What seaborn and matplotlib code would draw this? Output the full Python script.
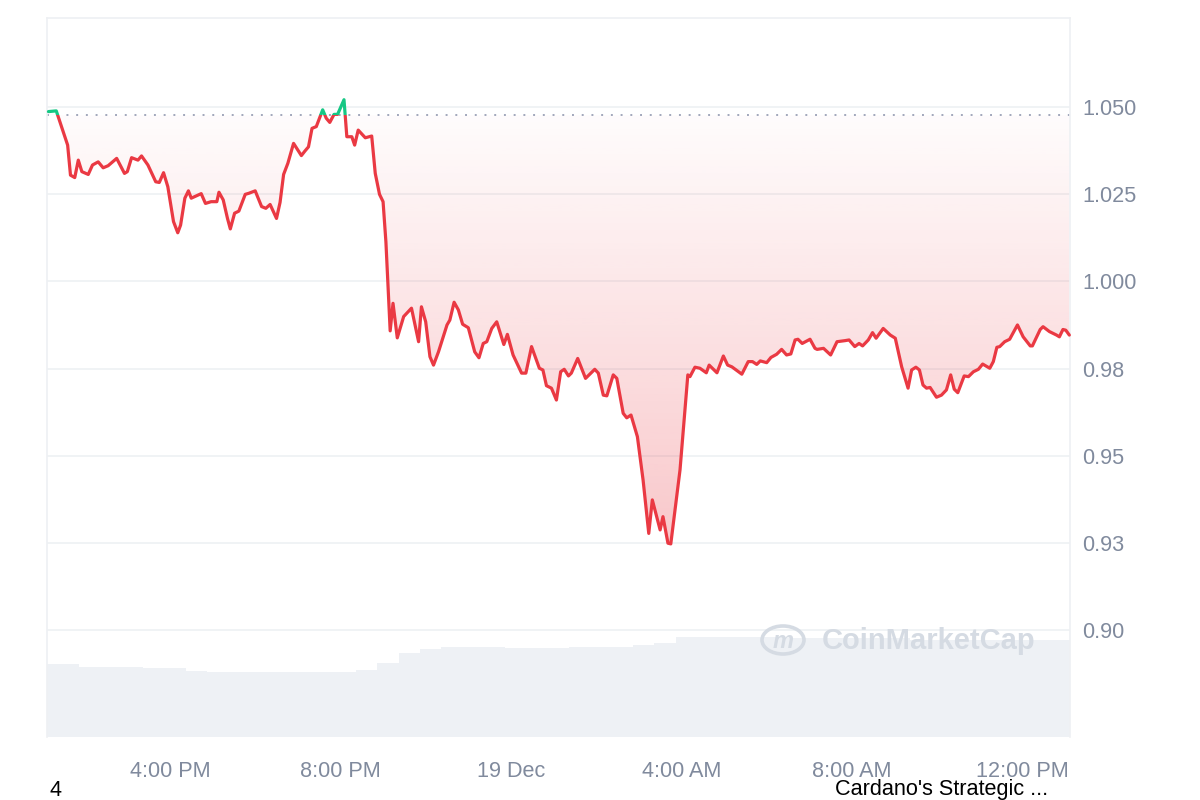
import numpy as np
import pandas as pd
import seaborn as sns
import matplotlib.pyplot as plt
import matplotlib.dates as mdates
from matplotlib.patches import Rectangle, PathPatch, Circle

# price trace, minutes after 12:00 PM on 18 Dec
minutes = [69, 80, 88, 96, 100, 106, 111, 116, 125, 131, 139, 146, 153, 165, 176, 180, 186, 195, 200, 209,
           220, 225, 231, 237, 245, 251, 255, 261, 266, 270, 284, 290, 298, 306, 309, 315, 321, 325, 331, 337,
           346, 351, 360, 369, 375, 381, 390, 395, 400, 406, 414, 425, 430,
           435, 440, 446, 455, 460, 465, 471, 476, 485, 489, 496, 500, 505, 515, 524, 529, 535, 540, 544, 550,
           554, 560, 569, 580, 590, 594, 600, 606, 611, 618, 630, 634, 640, 646, 652, 660, 669, 675, 681, 686,
           693, 700, 710, 715, 723, 735, 741, 749, 760, 765, 770, 777, 784, 790,
           795, 801, 805, 814, 825, 838, 843, 850, 855, 864, 869, 878, 883, 889, 898, 906, 914, 919, 930, 934,
           941, 945, 958, 969, 972, 979, 986, 995, 999, 1010, 1019, 1025, 1031, 1045, 1054, 1060, 1066, 1071,
           1080, 1086, 1094, 1101, 1108, 1114, 1120, 1124, 1130, 1141, 1148,
           1151, 1160, 1170, 1179, 1190, 1196, 1204, 1210, 1215, 1223, 1229, 1234, 1244, 1254, 1261, 1270,
           1279, 1284, 1290, 1295, 1300, 1305, 1310, 1319, 1326, 1333, 1339, 1344, 1349, 1358, 1364, 1371,
           1378, 1384, 1394, 1399, 1404, 1408, 1415, 1422, 1433, 1441, 1451, 1454, 1465, 1469, 1478, 1488,
           1492, 1497, 1501, 1506]

price = [1.0486, 1.0488, 1.0439, 1.0390, 1.0304, 1.0297, 1.0347, 1.0314, 1.0306, 1.0333, 1.0342, 1.0325,
         1.0331, 1.0352, 1.0309, 1.0314, 1.0354, 1.0347, 1.0359, 1.0333, 1.0285, 1.0283, 1.0311, 1.0271,
         1.0171, 1.0139, 1.0161, 1.0238, 1.0259, 1.0238, 1.0251, 1.0223, 1.0228, 1.0228, 1.0255, 1.0233,
         1.0180, 1.0150, 1.0195, 1.0201, 1.0249, 1.0252, 1.0259, 1.0214, 1.0209, 1.0220, 1.0180, 1.0226,
         1.0306, 1.0338, 1.0395, 1.0360, 1.0373,
         1.0385, 1.0438, 1.0443, 1.0491, 1.0467, 1.0455, 1.0478, 1.0478, 1.0520, 1.0414, 1.0414, 1.0390,
         1.0433, 1.0411, 1.0416, 1.0309, 1.0249, 1.0228, 1.0113, 0.9858, 0.9937, 0.9838, 0.9899, 0.9923,
         0.9827, 0.9927, 0.9884, 0.9784, 0.9760, 0.9798, 0.9875, 0.9889, 0.9940, 0.9918, 0.9877, 0.9867,
         0.9798, 0.9781, 0.9822, 0.9827, 0.9865, 0.9884, 0.9819, 0.9848, 0.9789, 0.9737, 0.9737, 0.9813,
         0.9751, 0.9746, 0.9701, 0.9694, 0.9660, 0.9741,
         0.9748, 0.9729, 0.9737, 0.9779, 0.9722, 0.9748, 0.9737, 0.9674, 0.9672, 0.9732, 0.9722, 0.9622,
         0.9609, 0.9617, 0.9555, 0.9431, 0.9278, 0.9374, 0.9288, 0.9326, 0.9250, 0.9248, 0.9460, 0.9732,
         0.9727, 0.9754, 0.9751, 0.9738, 0.9760, 0.9738, 0.9786, 0.9760, 0.9755, 0.9734, 0.9770, 0.9770,
         0.9762, 0.9772, 0.9767, 0.9782, 0.9791, 0.9805, 0.9789, 0.9792, 0.9832, 0.9834, 0.9822, 0.9834,
         0.9808,
         0.9805, 0.9808, 0.9789, 0.9827, 0.9830, 0.9832, 0.9813, 0.9822, 0.9815, 0.9832, 0.9853, 0.9837,
         0.9865, 0.9846, 0.9837, 0.9755, 0.9694, 0.9746, 0.9754, 0.9746, 0.9703, 0.9694, 0.9696, 0.9668,
         0.9674, 0.9689, 0.9732, 0.9691, 0.9681, 0.9729, 0.9727, 0.9741, 0.9748, 0.9763, 0.9751, 0.9770,
         0.9811, 0.9813, 0.9827, 0.9834, 0.9875, 0.9841, 0.9815, 0.9815, 0.9862, 0.9870, 0.9856, 0.9846,
         0.9841, 0.9862, 0.9860, 0.9846]

ref_price = 1.0476

# volume (billions), one bar every 30 min starting 13:07
volume = [3.65, 3.65, 3.50, 3.50, 3.50, 3.44, 3.44, 3.32, 3.24, 3.24, 3.24, 3.24, 3.24, 3.24, 3.24,
          3.35, 3.70, 4.20, 4.40, 4.52, 4.52, 4.52, 4.45, 4.44, 4.45, 4.48, 4.50, 4.50, 4.60, 4.70,
          5.00, 5.02, 5.02, 5.02, 5.00, 4.95, 4.95, 4.95, 4.95, 4.95, 4.95,
          4.85, 4.85, 4.85, 4.85, 4.85, 4.85, 4.85, 4.85]

y_ticks = [0.900, 0.925, 0.950, 0.975, 1.000, 1.025, 1.050]
y_labels = ['0.90', '0.93', '0.95', '0.98', '1.000', '1.025', '1.050']
x_ticks = ['2024-12-18 16:00', '2024-12-18 20:00', '2024-12-19 00:00',
           '2024-12-19 04:00', '2024-12-19 08:00', '2024-12-19 12:00']
x_labels = ['4:00 PM', '8:00 PM', '19 Dec', '4:00 AM', '8:00 AM', '12:00 PM']

RED = '#ea3943'
GREEN = '#16c784'
GRAY = '#808a9d'

sns.set_style('white')
plt.rcParams['font.family'] = ['Liberation Sans', 'DejaVu Sans']

start = pd.Timestamp('2024-12-18 12:00')
df = pd.DataFrame({'time': start + pd.to_timedelta(minutes, unit='m'), 'price': price})
vol_times = start + pd.to_timedelta(67 + 30 * np.arange(len(volume)), unit='m')

x0 = start + pd.Timedelta(minutes=67)
x1 = start + pd.Timedelta(minutes=1507)
ylo, yhi = 0.8695, 1.0754

fig = plt.figure(figsize=(12, 8), dpi=100)
ax = fig.add_axes([0.0392, 0.07875, 0.8525, 0.89875])
ax2 = ax.twinx()

# volume in the background
ax2.bar(vol_times, volume, width=pd.Timedelta(minutes=30), color='#eef1f5', edgecolor='none', align='center')
ax2.set_ylim(0, 35.95)
ax2.set_yticks([])
for s in ax2.spines.values():
    s.set_visible(False)
ax.set_zorder(ax2.get_zorder() + 1)
ax.patch.set_visible(False)

# gradient fill between price and reference
poly = ax.fill_between(df['time'], df['price'], ref_price, facecolor='none', edgecolor='none')
clip = PathPatch(poly.get_paths()[0], transform=ax.transData, facecolor='none', edgecolor='none')
ax.add_patch(clip)
grad = np.zeros((256, 1, 4))
grad[:, 0, 0] = 234 / 255
grad[:, 0, 1] = 57 / 255
grad[:, 0, 2] = 67 / 255
grad[:, 0, 3] = np.linspace(0.28, 0.015, 256)
xn0, xn1 = mdates.date2num(x0), mdates.date2num(x1)
im = ax.imshow(grad, extent=[xn0, xn1, 0.925, ref_price], origin='lower', aspect='auto', zorder=1)
im.set_clip_path(clip)

# reference line
ax.axhline(ref_price, color='#a1a7bb', lw=1.4, ls=(0, (1, 4)), zorder=2)

# price line, red below reference, green above
sns.lineplot(data=df, x='time', y='price', ax=ax, color=RED, linewidth=2.3, zorder=3)
red_line = ax.lines[-1]
sns.lineplot(data=df, x='time', y='price', ax=ax, color=GREEN, linewidth=2.3, zorder=3)
green_line = ax.lines[-1]
below = Rectangle((xn0 - 1, ylo - 1), xn1 - xn0 + 2, ref_price - ylo + 1, transform=ax.transData,
                  facecolor='none', edgecolor='none')
above = Rectangle((xn0 - 1, ref_price), xn1 - xn0 + 2, 1, transform=ax.transData,
                  facecolor='none', edgecolor='none')
red_line.set_clip_path(below)
green_line.set_clip_path(above)

ax.set_xlim(x0, x1)
ax.set_ylim(ylo, yhi)
ax.set_xlabel('')
ax.set_ylabel('')

ax.yaxis.tick_right()
ax.set_yticks(y_ticks)
ax.set_yticklabels(y_labels)
ax.set_xticks(pd.to_datetime(x_ticks))
ax.set_xticklabels(x_labels)
ax.tick_params(axis='y', length=0, pad=9, labelsize=15.6, labelcolor=GRAY)
ax.tick_params(axis='x', length=0, pad=17, labelsize=15.6, labelcolor=GRAY)
ax.grid(axis='y', color='#eff2f5', lw=1.3)
ax.grid(axis='x', visible=False)
ax.set_axisbelow(True)
for side in ['left', 'top', 'right']:
    ax.spines[side].set_color('#eef0f3')
    ax.spines[side].set_linewidth(1.2)
ax.spines['bottom'].set_visible(False)

# watermark
fig.patches.append(Circle((783 / 1200, 1 - 640 / 800), 21 / 1200, transform=fig.transFigure,
                          facecolor='none', edgecolor='#d5dbe3', lw=2.6))
fig.text(783 / 1200, 1 - 641 / 800, 'm', color='#d5dbe3', fontsize=17, fontweight='bold',
         ha='center', va='center', style='italic')
fig.text(822 / 1200, 1 - 641 / 800, 'CoinMarketCap', color='#d5dbe3', fontsize=21,
         fontweight='bold', ha='left', va='center')

# footer texts
fig.text(50 / 1200, 1 - 790 / 800, '4', color='black', fontsize=15.5, ha='left', va='center')
fig.text(835 / 1200, 1 - 790 / 800, "Cardano's Strategic ...", color='black', fontsize=15.6,
         ha='left', va='center')

fig.savefig('out.png', dpi=100)
